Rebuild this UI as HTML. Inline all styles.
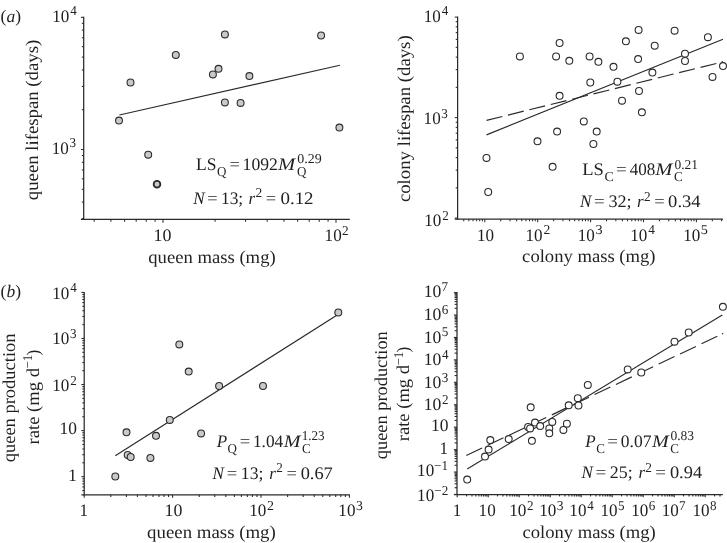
<!DOCTYPE html>
<html><head><meta charset="utf-8"><title>figure</title>
<style>
html,body{margin:0;padding:0;background:#fff;}
body{width:727px;height:543px;overflow:hidden;}
.w{width:727px;height:543px;filter:grayscale(1);}
svg{display:block;font-family:"Liberation Serif",serif;fill:#231f20;text-rendering:geometricPrecision;}
</style></head><body><div class="w">
<svg width="727" height="543" viewBox="0 0 727 543">
<rect width="727" height="543" fill="#fff"/>
<g id="pA">
<line x1="83.70" y1="16.80" x2="83.70" y2="219.90" stroke="#2a2a2a" stroke-width="1.25" />
<line x1="80.90" y1="219.30" x2="349.80" y2="219.30" stroke="#2a2a2a" stroke-width="1.25" />
<line x1="80.90" y1="17.30" x2="83.70" y2="17.30" stroke="#2a2a2a" stroke-width="1.05" />
<line x1="80.90" y1="149.50" x2="83.70" y2="149.50" stroke="#2a2a2a" stroke-width="1.05" />
<line x1="81.80" y1="109.70" x2="83.70" y2="109.70" stroke="#2a2a2a" stroke-width="1.05" />
<line x1="81.80" y1="86.42" x2="83.70" y2="86.42" stroke="#2a2a2a" stroke-width="1.05" />
<line x1="81.80" y1="69.91" x2="83.70" y2="69.91" stroke="#2a2a2a" stroke-width="1.05" />
<line x1="81.80" y1="57.10" x2="83.70" y2="57.10" stroke="#2a2a2a" stroke-width="1.05" />
<line x1="81.80" y1="46.63" x2="83.70" y2="46.63" stroke="#2a2a2a" stroke-width="1.05" />
<line x1="81.80" y1="37.78" x2="83.70" y2="37.78" stroke="#2a2a2a" stroke-width="1.05" />
<line x1="81.80" y1="30.11" x2="83.70" y2="30.11" stroke="#2a2a2a" stroke-width="1.05" />
<line x1="81.80" y1="23.35" x2="83.70" y2="23.35" stroke="#2a2a2a" stroke-width="1.05" />
<line x1="81.80" y1="218.62" x2="83.70" y2="218.62" stroke="#2a2a2a" stroke-width="1.05" />
<line x1="81.80" y1="202.11" x2="83.70" y2="202.11" stroke="#2a2a2a" stroke-width="1.05" />
<line x1="81.80" y1="189.30" x2="83.70" y2="189.30" stroke="#2a2a2a" stroke-width="1.05" />
<line x1="81.80" y1="178.83" x2="83.70" y2="178.83" stroke="#2a2a2a" stroke-width="1.05" />
<line x1="81.80" y1="169.98" x2="83.70" y2="169.98" stroke="#2a2a2a" stroke-width="1.05" />
<line x1="81.80" y1="162.31" x2="83.70" y2="162.31" stroke="#2a2a2a" stroke-width="1.05" />
<line x1="81.80" y1="155.55" x2="83.70" y2="155.55" stroke="#2a2a2a" stroke-width="1.05" />
<line x1="94.16" y1="219.30" x2="94.16" y2="221.80" stroke="#2a2a2a" stroke-width="1.05" />
<line x1="110.92" y1="219.30" x2="110.92" y2="221.80" stroke="#2a2a2a" stroke-width="1.05" />
<line x1="124.62" y1="219.30" x2="124.62" y2="221.80" stroke="#2a2a2a" stroke-width="1.05" />
<line x1="136.20" y1="219.30" x2="136.20" y2="221.80" stroke="#2a2a2a" stroke-width="1.05" />
<line x1="146.23" y1="219.30" x2="146.23" y2="221.80" stroke="#2a2a2a" stroke-width="1.05" />
<line x1="155.08" y1="219.30" x2="155.08" y2="221.80" stroke="#2a2a2a" stroke-width="1.05" />
<line x1="163.00" y1="219.30" x2="163.00" y2="222.80" stroke="#2a2a2a" stroke-width="1.05" />
<line x1="215.08" y1="219.30" x2="215.08" y2="221.80" stroke="#2a2a2a" stroke-width="1.05" />
<line x1="245.54" y1="219.30" x2="245.54" y2="221.80" stroke="#2a2a2a" stroke-width="1.05" />
<line x1="267.16" y1="219.30" x2="267.16" y2="221.80" stroke="#2a2a2a" stroke-width="1.05" />
<line x1="283.92" y1="219.30" x2="283.92" y2="221.80" stroke="#2a2a2a" stroke-width="1.05" />
<line x1="297.62" y1="219.30" x2="297.62" y2="221.80" stroke="#2a2a2a" stroke-width="1.05" />
<line x1="309.20" y1="219.30" x2="309.20" y2="221.80" stroke="#2a2a2a" stroke-width="1.05" />
<line x1="319.23" y1="219.30" x2="319.23" y2="221.80" stroke="#2a2a2a" stroke-width="1.05" />
<line x1="328.08" y1="219.30" x2="328.08" y2="221.80" stroke="#2a2a2a" stroke-width="1.05" />
<line x1="336.00" y1="219.30" x2="336.00" y2="222.80" stroke="#2a2a2a" stroke-width="1.05" />
<text x="0.6" y="21.7" font-size="17.5">(<tspan font-style="italic">a</tspan>)</text>
<text transform="translate(52.26 21.70) scale(0.9700 1)" font-size="17.6">10</text>
<text transform="translate(70.18 15.40) scale(0.9700 1)" font-size="13.5">4</text>
<text transform="translate(51.76 153.50) scale(0.9700 1)" font-size="17.6">10</text>
<text transform="translate(69.57 147.20) scale(0.9700 1)" font-size="13.5">3</text>
<text transform="translate(153.50 240.70) scale(1.0207 1)" font-size="17.6">10</text>
<text transform="translate(324.61 241.00) scale(0.9700 1)" font-size="17.6">10</text>
<text transform="translate(342.09 234.70) scale(0.9833 1)" font-size="13.5">2</text>
<text transform="translate(148.22 262.50) scale(1.0365 1)" font-size="18.0">queen mass (mg)</text>
<text transform="translate(38.40 200.19) rotate(-90) scale(1.0417 1)" font-size="18.0">queen lifespan (days)</text>
<line x1="119.40" y1="115.00" x2="339.90" y2="65.30" stroke="#2a2a2a" stroke-width="1.15" />
<circle cx="119.00" cy="120.60" r="3.45" fill="#c9c9c9" stroke="#2a2a2a" stroke-width="1.08"/>
<circle cx="130.50" cy="82.50" r="3.45" fill="#c9c9c9" stroke="#2a2a2a" stroke-width="1.08"/>
<circle cx="148.20" cy="154.70" r="3.45" fill="#c9c9c9" stroke="#2a2a2a" stroke-width="1.08"/>
<circle cx="175.80" cy="54.90" r="3.45" fill="#c9c9c9" stroke="#2a2a2a" stroke-width="1.08"/>
<circle cx="212.90" cy="74.40" r="3.45" fill="#c9c9c9" stroke="#2a2a2a" stroke-width="1.08"/>
<circle cx="218.50" cy="68.80" r="3.45" fill="#c9c9c9" stroke="#2a2a2a" stroke-width="1.08"/>
<circle cx="224.90" cy="34.40" r="3.45" fill="#c9c9c9" stroke="#2a2a2a" stroke-width="1.08"/>
<circle cx="224.90" cy="102.40" r="3.45" fill="#c9c9c9" stroke="#2a2a2a" stroke-width="1.08"/>
<circle cx="240.60" cy="102.90" r="3.45" fill="#c9c9c9" stroke="#2a2a2a" stroke-width="1.08"/>
<circle cx="249.40" cy="76.10" r="3.45" fill="#c9c9c9" stroke="#2a2a2a" stroke-width="1.08"/>
<circle cx="321.10" cy="35.50" r="3.45" fill="#c9c9c9" stroke="#2a2a2a" stroke-width="1.08"/>
<circle cx="339.40" cy="127.60" r="3.45" fill="#c9c9c9" stroke="#2a2a2a" stroke-width="1.08"/>
<circle cx="157.00" cy="184.30" r="3.35" fill="#c9c9c9" stroke="#2a2a2a" stroke-width="1.8"/>
<text transform="translate(196.03 169.80) scale(0.9961 1)" font-size="17.6">LS</text>
<text transform="translate(217.09 175.80) scale(0.9700 1)" font-size="13.5">Q</text>
<text transform="translate(229.54 169.80) scale(1.0424 1)" font-size="17.6">=</text>
<text transform="translate(242.62 169.80) scale(1.0030 1)" font-size="17.6">1092</text>
<text transform="translate(277.92 169.80) scale(1.1724 1)" font-size="17.6" font-style="italic">M</text>
<text transform="translate(296.99 175.80) scale(0.9700 1)" font-size="13.5">Q</text>
<text transform="translate(297.36 163.40) scale(1.0359 1)" font-size="13.5">0.29</text>
<text transform="translate(193.35 203.80) scale(0.9700 1)" font-size="17.6" font-style="italic">N</text>
<text transform="translate(207.34 203.80) scale(1.0424 1)" font-size="17.6">=</text>
<text transform="translate(220.94 203.80) scale(0.9899 1)" font-size="17.6">13;</text>
<text transform="translate(248.57 203.80) scale(0.9700 1)" font-size="17.6" font-style="italic">r</text>
<text transform="translate(255.58 197.40) scale(1.0008 1)" font-size="13.5">2</text>
<text transform="translate(265.74 203.80) scale(1.0424 1)" font-size="17.6">=</text>
<text transform="translate(280.41 203.80) scale(1.0773 1)" font-size="17.6">0.12</text>
</g>
<g id="pB">
<line x1="457.60" y1="16.60" x2="457.60" y2="219.80" stroke="#2a2a2a" stroke-width="1.25" />
<line x1="454.80" y1="219.20" x2="723.00" y2="219.20" stroke="#2a2a2a" stroke-width="1.25" />
<line x1="454.80" y1="17.10" x2="457.60" y2="17.10" stroke="#2a2a2a" stroke-width="1.05" />
<line x1="454.80" y1="117.60" x2="457.60" y2="117.60" stroke="#2a2a2a" stroke-width="1.05" />
<line x1="455.70" y1="87.35" x2="457.60" y2="87.35" stroke="#2a2a2a" stroke-width="1.05" />
<line x1="455.70" y1="69.65" x2="457.60" y2="69.65" stroke="#2a2a2a" stroke-width="1.05" />
<line x1="455.70" y1="57.09" x2="457.60" y2="57.09" stroke="#2a2a2a" stroke-width="1.05" />
<line x1="455.70" y1="47.35" x2="457.60" y2="47.35" stroke="#2a2a2a" stroke-width="1.05" />
<line x1="455.70" y1="39.40" x2="457.60" y2="39.40" stroke="#2a2a2a" stroke-width="1.05" />
<line x1="455.70" y1="32.67" x2="457.60" y2="32.67" stroke="#2a2a2a" stroke-width="1.05" />
<line x1="455.70" y1="26.84" x2="457.60" y2="26.84" stroke="#2a2a2a" stroke-width="1.05" />
<line x1="455.70" y1="21.70" x2="457.60" y2="21.70" stroke="#2a2a2a" stroke-width="1.05" />
<line x1="454.80" y1="218.10" x2="457.60" y2="218.10" stroke="#2a2a2a" stroke-width="1.05" />
<line x1="455.70" y1="187.85" x2="457.60" y2="187.85" stroke="#2a2a2a" stroke-width="1.05" />
<line x1="455.70" y1="170.15" x2="457.60" y2="170.15" stroke="#2a2a2a" stroke-width="1.05" />
<line x1="455.70" y1="157.59" x2="457.60" y2="157.59" stroke="#2a2a2a" stroke-width="1.05" />
<line x1="455.70" y1="147.85" x2="457.60" y2="147.85" stroke="#2a2a2a" stroke-width="1.05" />
<line x1="455.70" y1="139.90" x2="457.60" y2="139.90" stroke="#2a2a2a" stroke-width="1.05" />
<line x1="455.70" y1="133.17" x2="457.60" y2="133.17" stroke="#2a2a2a" stroke-width="1.05" />
<line x1="455.70" y1="127.34" x2="457.60" y2="127.34" stroke="#2a2a2a" stroke-width="1.05" />
<line x1="455.70" y1="122.20" x2="457.60" y2="122.20" stroke="#2a2a2a" stroke-width="1.05" />
<line x1="463.75" y1="219.20" x2="463.75" y2="221.30" stroke="#2a2a2a" stroke-width="1.05" />
<line x1="468.88" y1="219.20" x2="468.88" y2="221.30" stroke="#2a2a2a" stroke-width="1.05" />
<line x1="473.06" y1="219.20" x2="473.06" y2="221.30" stroke="#2a2a2a" stroke-width="1.05" />
<line x1="476.61" y1="219.20" x2="476.61" y2="221.30" stroke="#2a2a2a" stroke-width="1.05" />
<line x1="479.67" y1="219.20" x2="479.67" y2="221.30" stroke="#2a2a2a" stroke-width="1.05" />
<line x1="482.38" y1="219.20" x2="482.38" y2="221.30" stroke="#2a2a2a" stroke-width="1.05" />
<line x1="484.80" y1="219.20" x2="484.80" y2="222.20" stroke="#2a2a2a" stroke-width="1.05" />
<line x1="500.72" y1="219.20" x2="500.72" y2="221.30" stroke="#2a2a2a" stroke-width="1.05" />
<line x1="510.04" y1="219.20" x2="510.04" y2="221.30" stroke="#2a2a2a" stroke-width="1.05" />
<line x1="516.65" y1="219.20" x2="516.65" y2="221.30" stroke="#2a2a2a" stroke-width="1.05" />
<line x1="521.78" y1="219.20" x2="521.78" y2="221.30" stroke="#2a2a2a" stroke-width="1.05" />
<line x1="525.96" y1="219.20" x2="525.96" y2="221.30" stroke="#2a2a2a" stroke-width="1.05" />
<line x1="529.51" y1="219.20" x2="529.51" y2="221.30" stroke="#2a2a2a" stroke-width="1.05" />
<line x1="532.57" y1="219.20" x2="532.57" y2="221.30" stroke="#2a2a2a" stroke-width="1.05" />
<line x1="535.28" y1="219.20" x2="535.28" y2="221.30" stroke="#2a2a2a" stroke-width="1.05" />
<line x1="537.70" y1="219.20" x2="537.70" y2="222.20" stroke="#2a2a2a" stroke-width="1.05" />
<line x1="553.62" y1="219.20" x2="553.62" y2="221.30" stroke="#2a2a2a" stroke-width="1.05" />
<line x1="562.94" y1="219.20" x2="562.94" y2="221.30" stroke="#2a2a2a" stroke-width="1.05" />
<line x1="569.55" y1="219.20" x2="569.55" y2="221.30" stroke="#2a2a2a" stroke-width="1.05" />
<line x1="574.68" y1="219.20" x2="574.68" y2="221.30" stroke="#2a2a2a" stroke-width="1.05" />
<line x1="578.86" y1="219.20" x2="578.86" y2="221.30" stroke="#2a2a2a" stroke-width="1.05" />
<line x1="582.41" y1="219.20" x2="582.41" y2="221.30" stroke="#2a2a2a" stroke-width="1.05" />
<line x1="585.47" y1="219.20" x2="585.47" y2="221.30" stroke="#2a2a2a" stroke-width="1.05" />
<line x1="588.18" y1="219.20" x2="588.18" y2="221.30" stroke="#2a2a2a" stroke-width="1.05" />
<line x1="590.60" y1="219.20" x2="590.60" y2="222.20" stroke="#2a2a2a" stroke-width="1.05" />
<line x1="606.52" y1="219.20" x2="606.52" y2="221.30" stroke="#2a2a2a" stroke-width="1.05" />
<line x1="615.84" y1="219.20" x2="615.84" y2="221.30" stroke="#2a2a2a" stroke-width="1.05" />
<line x1="622.45" y1="219.20" x2="622.45" y2="221.30" stroke="#2a2a2a" stroke-width="1.05" />
<line x1="627.58" y1="219.20" x2="627.58" y2="221.30" stroke="#2a2a2a" stroke-width="1.05" />
<line x1="631.76" y1="219.20" x2="631.76" y2="221.30" stroke="#2a2a2a" stroke-width="1.05" />
<line x1="635.31" y1="219.20" x2="635.31" y2="221.30" stroke="#2a2a2a" stroke-width="1.05" />
<line x1="638.37" y1="219.20" x2="638.37" y2="221.30" stroke="#2a2a2a" stroke-width="1.05" />
<line x1="641.08" y1="219.20" x2="641.08" y2="221.30" stroke="#2a2a2a" stroke-width="1.05" />
<line x1="643.50" y1="219.20" x2="643.50" y2="222.20" stroke="#2a2a2a" stroke-width="1.05" />
<line x1="659.42" y1="219.20" x2="659.42" y2="221.30" stroke="#2a2a2a" stroke-width="1.05" />
<line x1="668.74" y1="219.20" x2="668.74" y2="221.30" stroke="#2a2a2a" stroke-width="1.05" />
<line x1="675.35" y1="219.20" x2="675.35" y2="221.30" stroke="#2a2a2a" stroke-width="1.05" />
<line x1="680.48" y1="219.20" x2="680.48" y2="221.30" stroke="#2a2a2a" stroke-width="1.05" />
<line x1="684.66" y1="219.20" x2="684.66" y2="221.30" stroke="#2a2a2a" stroke-width="1.05" />
<line x1="688.21" y1="219.20" x2="688.21" y2="221.30" stroke="#2a2a2a" stroke-width="1.05" />
<line x1="691.27" y1="219.20" x2="691.27" y2="221.30" stroke="#2a2a2a" stroke-width="1.05" />
<line x1="693.98" y1="219.20" x2="693.98" y2="221.30" stroke="#2a2a2a" stroke-width="1.05" />
<line x1="696.40" y1="219.20" x2="696.40" y2="222.20" stroke="#2a2a2a" stroke-width="1.05" />
<line x1="712.32" y1="219.20" x2="712.32" y2="221.30" stroke="#2a2a2a" stroke-width="1.05" />
<line x1="721.64" y1="219.20" x2="721.64" y2="221.30" stroke="#2a2a2a" stroke-width="1.05" />
<text transform="translate(423.81 21.50) scale(0.9700 1)" font-size="17.6">10</text>
<text transform="translate(441.63 15.20) scale(0.9700 1)" font-size="13.5">4</text>
<text transform="translate(423.61 123.90) scale(0.9700 1)" font-size="17.6">10</text>
<text transform="translate(441.37 117.60) scale(0.9700 1)" font-size="13.5">3</text>
<text transform="translate(424.31 225.90) scale(0.9700 1)" font-size="17.6">10</text>
<text transform="translate(442.13 219.60) scale(0.9700 1)" font-size="13.5">2</text>
<text transform="translate(476.91 240.70) scale(0.9700 1)" font-size="17.6">10</text>
<text transform="translate(525.51 240.70) scale(0.9700 1)" font-size="17.6">10</text>
<text transform="translate(543.38 234.40) scale(1.0008 1)" font-size="13.5">2</text>
<text transform="translate(577.66 240.70) scale(0.9700 1)" font-size="17.6">10</text>
<text transform="translate(595.43 234.40) scale(1.0535 1)" font-size="13.5">3</text>
<text transform="translate(630.26 240.70) scale(0.9700 1)" font-size="17.6">10</text>
<text transform="translate(648.29 234.40) scale(0.9798 1)" font-size="13.5">4</text>
<text transform="translate(683.16 240.70) scale(0.9700 1)" font-size="17.6">10</text>
<text transform="translate(700.83 234.40) scale(1.0535 1)" font-size="13.5">5</text>
<text transform="translate(522.12 262.30) scale(1.0347 1)" font-size="18.0">colony mass (mg)</text>
<text transform="translate(410.00 202.09) rotate(-90) scale(1.0426 1)" font-size="18.0">colony lifespan (days)</text>
<line x1="486.50" y1="134.90" x2="723.00" y2="39.20" stroke="#2a2a2a" stroke-width="1.15" />
<line x1="486.50" y1="120.40" x2="722.60" y2="61.90" stroke="#2a2a2a" stroke-width="1.15" stroke-dasharray="16.3 5.75"/>
<line x1="721.60" y1="62.15" x2="722.90" y2="61.83" stroke="#2a2a2a" stroke-width="1.15" />
<circle cx="486.50" cy="157.90" r="3.45" fill="#fff" stroke="#2a2a2a" stroke-width="1.08"/>
<circle cx="488.20" cy="192.00" r="3.45" fill="#fff" stroke="#2a2a2a" stroke-width="1.08"/>
<circle cx="519.90" cy="56.40" r="3.45" fill="#fff" stroke="#2a2a2a" stroke-width="1.08"/>
<circle cx="537.50" cy="141.30" r="3.45" fill="#fff" stroke="#2a2a2a" stroke-width="1.08"/>
<circle cx="552.60" cy="166.80" r="3.45" fill="#fff" stroke="#2a2a2a" stroke-width="1.08"/>
<circle cx="556.10" cy="56.40" r="3.45" fill="#fff" stroke="#2a2a2a" stroke-width="1.08"/>
<circle cx="557.10" cy="131.60" r="3.45" fill="#fff" stroke="#2a2a2a" stroke-width="1.08"/>
<circle cx="559.60" cy="43.00" r="3.45" fill="#fff" stroke="#2a2a2a" stroke-width="1.08"/>
<circle cx="559.60" cy="95.80" r="3.45" fill="#fff" stroke="#2a2a2a" stroke-width="1.08"/>
<circle cx="569.30" cy="60.80" r="3.45" fill="#fff" stroke="#2a2a2a" stroke-width="1.08"/>
<circle cx="583.80" cy="121.40" r="3.45" fill="#fff" stroke="#2a2a2a" stroke-width="1.08"/>
<circle cx="589.60" cy="56.40" r="3.45" fill="#fff" stroke="#2a2a2a" stroke-width="1.08"/>
<circle cx="590.30" cy="82.50" r="3.45" fill="#fff" stroke="#2a2a2a" stroke-width="1.08"/>
<circle cx="593.40" cy="144.00" r="3.45" fill="#fff" stroke="#2a2a2a" stroke-width="1.08"/>
<circle cx="596.70" cy="131.60" r="3.45" fill="#fff" stroke="#2a2a2a" stroke-width="1.08"/>
<circle cx="598.40" cy="61.80" r="3.45" fill="#fff" stroke="#2a2a2a" stroke-width="1.08"/>
<circle cx="613.50" cy="66.80" r="3.45" fill="#fff" stroke="#2a2a2a" stroke-width="1.08"/>
<circle cx="617.40" cy="81.70" r="3.45" fill="#fff" stroke="#2a2a2a" stroke-width="1.08"/>
<circle cx="622.00" cy="100.70" r="3.45" fill="#fff" stroke="#2a2a2a" stroke-width="1.08"/>
<circle cx="625.90" cy="41.30" r="3.45" fill="#fff" stroke="#2a2a2a" stroke-width="1.08"/>
<circle cx="638.10" cy="59.10" r="3.45" fill="#fff" stroke="#2a2a2a" stroke-width="1.08"/>
<circle cx="638.60" cy="29.90" r="3.45" fill="#fff" stroke="#2a2a2a" stroke-width="1.08"/>
<circle cx="639.00" cy="91.00" r="3.45" fill="#fff" stroke="#2a2a2a" stroke-width="1.08"/>
<circle cx="641.90" cy="112.30" r="3.45" fill="#fff" stroke="#2a2a2a" stroke-width="1.08"/>
<circle cx="652.40" cy="72.60" r="3.45" fill="#fff" stroke="#2a2a2a" stroke-width="1.08"/>
<circle cx="654.70" cy="45.70" r="3.45" fill="#fff" stroke="#2a2a2a" stroke-width="1.08"/>
<circle cx="674.60" cy="30.70" r="3.45" fill="#fff" stroke="#2a2a2a" stroke-width="1.08"/>
<circle cx="685.00" cy="53.70" r="3.45" fill="#fff" stroke="#2a2a2a" stroke-width="1.08"/>
<circle cx="685.00" cy="61.00" r="3.45" fill="#fff" stroke="#2a2a2a" stroke-width="1.08"/>
<circle cx="707.90" cy="37.20" r="3.45" fill="#fff" stroke="#2a2a2a" stroke-width="1.08"/>
<circle cx="712.50" cy="76.90" r="3.45" fill="#fff" stroke="#2a2a2a" stroke-width="1.08"/>
<circle cx="723.00" cy="66.10" r="3.45" fill="#fff" stroke="#2a2a2a" stroke-width="1.08"/>
<text transform="translate(582.21 175.10) scale(1.0531 1)" font-size="17.6">LS</text>
<text transform="translate(604.46 181.10) scale(1.0355 1)" font-size="13.5">C</text>
<text transform="translate(616.11 175.10) scale(1.0788 1)" font-size="17.6">=</text>
<text transform="translate(629.68 175.10) scale(0.9700 1)" font-size="17.6">408</text>
<text transform="translate(655.32 175.10) scale(1.1724 1)" font-size="17.6" font-style="italic">M</text>
<text transform="translate(673.90 181.10) scale(0.9700 1)" font-size="13.5">C</text>
<text transform="translate(674.48 168.70) scale(0.9969 1)" font-size="13.5">0.21</text>
<text transform="translate(580.05 207.30) scale(0.9700 1)" font-size="17.6" font-style="italic">N</text>
<text transform="translate(594.11 207.30) scale(1.0788 1)" font-size="17.6">=</text>
<text transform="translate(608.45 207.30) scale(1.0319 1)" font-size="17.6">32;</text>
<text transform="translate(637.12 207.30) scale(0.9700 1)" font-size="17.6" font-style="italic">r</text>
<text transform="translate(644.09 200.90) scale(0.9833 1)" font-size="13.5">2</text>
<text transform="translate(654.23 207.30) scale(1.0545 1)" font-size="17.6">=</text>
<text transform="translate(668.12 207.30) scale(1.0542 1)" font-size="17.6">0.34</text>
</g>
<g id="pC">
<line x1="84.20" y1="291.90" x2="84.20" y2="495.40" stroke="#2a2a2a" stroke-width="1.25" />
<line x1="81.40" y1="494.80" x2="349.80" y2="494.80" stroke="#2a2a2a" stroke-width="1.25" />
<line x1="81.40" y1="292.40" x2="84.20" y2="292.40" stroke="#2a2a2a" stroke-width="1.05" />
<line x1="81.40" y1="338.47" x2="84.20" y2="338.47" stroke="#2a2a2a" stroke-width="1.05" />
<line x1="82.30" y1="324.60" x2="84.20" y2="324.60" stroke="#2a2a2a" stroke-width="1.05" />
<line x1="82.30" y1="316.49" x2="84.20" y2="316.49" stroke="#2a2a2a" stroke-width="1.05" />
<line x1="82.30" y1="310.73" x2="84.20" y2="310.73" stroke="#2a2a2a" stroke-width="1.05" />
<line x1="82.30" y1="306.27" x2="84.20" y2="306.27" stroke="#2a2a2a" stroke-width="1.05" />
<line x1="82.30" y1="302.62" x2="84.20" y2="302.62" stroke="#2a2a2a" stroke-width="1.05" />
<line x1="82.30" y1="299.54" x2="84.20" y2="299.54" stroke="#2a2a2a" stroke-width="1.05" />
<line x1="82.30" y1="296.86" x2="84.20" y2="296.86" stroke="#2a2a2a" stroke-width="1.05" />
<line x1="82.30" y1="294.51" x2="84.20" y2="294.51" stroke="#2a2a2a" stroke-width="1.05" />
<line x1="81.40" y1="384.54" x2="84.20" y2="384.54" stroke="#2a2a2a" stroke-width="1.05" />
<line x1="82.30" y1="370.67" x2="84.20" y2="370.67" stroke="#2a2a2a" stroke-width="1.05" />
<line x1="82.30" y1="362.56" x2="84.20" y2="362.56" stroke="#2a2a2a" stroke-width="1.05" />
<line x1="82.30" y1="356.80" x2="84.20" y2="356.80" stroke="#2a2a2a" stroke-width="1.05" />
<line x1="82.30" y1="352.34" x2="84.20" y2="352.34" stroke="#2a2a2a" stroke-width="1.05" />
<line x1="82.30" y1="348.69" x2="84.20" y2="348.69" stroke="#2a2a2a" stroke-width="1.05" />
<line x1="82.30" y1="345.61" x2="84.20" y2="345.61" stroke="#2a2a2a" stroke-width="1.05" />
<line x1="82.30" y1="342.93" x2="84.20" y2="342.93" stroke="#2a2a2a" stroke-width="1.05" />
<line x1="82.30" y1="340.58" x2="84.20" y2="340.58" stroke="#2a2a2a" stroke-width="1.05" />
<line x1="81.40" y1="430.61" x2="84.20" y2="430.61" stroke="#2a2a2a" stroke-width="1.05" />
<line x1="82.30" y1="416.74" x2="84.20" y2="416.74" stroke="#2a2a2a" stroke-width="1.05" />
<line x1="82.30" y1="408.63" x2="84.20" y2="408.63" stroke="#2a2a2a" stroke-width="1.05" />
<line x1="82.30" y1="402.87" x2="84.20" y2="402.87" stroke="#2a2a2a" stroke-width="1.05" />
<line x1="82.30" y1="398.41" x2="84.20" y2="398.41" stroke="#2a2a2a" stroke-width="1.05" />
<line x1="82.30" y1="394.76" x2="84.20" y2="394.76" stroke="#2a2a2a" stroke-width="1.05" />
<line x1="82.30" y1="391.68" x2="84.20" y2="391.68" stroke="#2a2a2a" stroke-width="1.05" />
<line x1="82.30" y1="389.00" x2="84.20" y2="389.00" stroke="#2a2a2a" stroke-width="1.05" />
<line x1="82.30" y1="386.65" x2="84.20" y2="386.65" stroke="#2a2a2a" stroke-width="1.05" />
<line x1="81.40" y1="476.68" x2="84.20" y2="476.68" stroke="#2a2a2a" stroke-width="1.05" />
<line x1="82.30" y1="462.81" x2="84.20" y2="462.81" stroke="#2a2a2a" stroke-width="1.05" />
<line x1="82.30" y1="454.70" x2="84.20" y2="454.70" stroke="#2a2a2a" stroke-width="1.05" />
<line x1="82.30" y1="448.94" x2="84.20" y2="448.94" stroke="#2a2a2a" stroke-width="1.05" />
<line x1="82.30" y1="444.48" x2="84.20" y2="444.48" stroke="#2a2a2a" stroke-width="1.05" />
<line x1="82.30" y1="440.83" x2="84.20" y2="440.83" stroke="#2a2a2a" stroke-width="1.05" />
<line x1="82.30" y1="437.75" x2="84.20" y2="437.75" stroke="#2a2a2a" stroke-width="1.05" />
<line x1="82.30" y1="435.07" x2="84.20" y2="435.07" stroke="#2a2a2a" stroke-width="1.05" />
<line x1="82.30" y1="432.72" x2="84.20" y2="432.72" stroke="#2a2a2a" stroke-width="1.05" />
<line x1="82.30" y1="490.55" x2="84.20" y2="490.55" stroke="#2a2a2a" stroke-width="1.05" />
<line x1="82.30" y1="486.90" x2="84.20" y2="486.90" stroke="#2a2a2a" stroke-width="1.05" />
<line x1="82.30" y1="483.82" x2="84.20" y2="483.82" stroke="#2a2a2a" stroke-width="1.05" />
<line x1="82.30" y1="481.14" x2="84.20" y2="481.14" stroke="#2a2a2a" stroke-width="1.05" />
<line x1="82.30" y1="478.79" x2="84.20" y2="478.79" stroke="#2a2a2a" stroke-width="1.05" />
<line x1="84.20" y1="494.80" x2="84.20" y2="497.80" stroke="#2a2a2a" stroke-width="1.05" />
<line x1="110.81" y1="494.80" x2="110.81" y2="496.90" stroke="#2a2a2a" stroke-width="1.05" />
<line x1="126.38" y1="494.80" x2="126.38" y2="496.90" stroke="#2a2a2a" stroke-width="1.05" />
<line x1="137.42" y1="494.80" x2="137.42" y2="496.90" stroke="#2a2a2a" stroke-width="1.05" />
<line x1="145.99" y1="494.80" x2="145.99" y2="496.90" stroke="#2a2a2a" stroke-width="1.05" />
<line x1="152.99" y1="494.80" x2="152.99" y2="496.90" stroke="#2a2a2a" stroke-width="1.05" />
<line x1="158.91" y1="494.80" x2="158.91" y2="496.90" stroke="#2a2a2a" stroke-width="1.05" />
<line x1="164.03" y1="494.80" x2="164.03" y2="496.90" stroke="#2a2a2a" stroke-width="1.05" />
<line x1="168.56" y1="494.80" x2="168.56" y2="496.90" stroke="#2a2a2a" stroke-width="1.05" />
<line x1="172.60" y1="494.80" x2="172.60" y2="497.80" stroke="#2a2a2a" stroke-width="1.05" />
<line x1="199.21" y1="494.80" x2="199.21" y2="496.90" stroke="#2a2a2a" stroke-width="1.05" />
<line x1="214.78" y1="494.80" x2="214.78" y2="496.90" stroke="#2a2a2a" stroke-width="1.05" />
<line x1="225.82" y1="494.80" x2="225.82" y2="496.90" stroke="#2a2a2a" stroke-width="1.05" />
<line x1="234.39" y1="494.80" x2="234.39" y2="496.90" stroke="#2a2a2a" stroke-width="1.05" />
<line x1="241.39" y1="494.80" x2="241.39" y2="496.90" stroke="#2a2a2a" stroke-width="1.05" />
<line x1="247.31" y1="494.80" x2="247.31" y2="496.90" stroke="#2a2a2a" stroke-width="1.05" />
<line x1="252.43" y1="494.80" x2="252.43" y2="496.90" stroke="#2a2a2a" stroke-width="1.05" />
<line x1="256.96" y1="494.80" x2="256.96" y2="496.90" stroke="#2a2a2a" stroke-width="1.05" />
<line x1="261.00" y1="494.80" x2="261.00" y2="497.80" stroke="#2a2a2a" stroke-width="1.05" />
<line x1="287.61" y1="494.80" x2="287.61" y2="496.90" stroke="#2a2a2a" stroke-width="1.05" />
<line x1="303.18" y1="494.80" x2="303.18" y2="496.90" stroke="#2a2a2a" stroke-width="1.05" />
<line x1="314.22" y1="494.80" x2="314.22" y2="496.90" stroke="#2a2a2a" stroke-width="1.05" />
<line x1="322.79" y1="494.80" x2="322.79" y2="496.90" stroke="#2a2a2a" stroke-width="1.05" />
<line x1="329.79" y1="494.80" x2="329.79" y2="496.90" stroke="#2a2a2a" stroke-width="1.05" />
<line x1="335.71" y1="494.80" x2="335.71" y2="496.90" stroke="#2a2a2a" stroke-width="1.05" />
<line x1="340.83" y1="494.80" x2="340.83" y2="496.90" stroke="#2a2a2a" stroke-width="1.05" />
<line x1="345.36" y1="494.80" x2="345.36" y2="496.90" stroke="#2a2a2a" stroke-width="1.05" />
<line x1="349.40" y1="494.80" x2="349.40" y2="497.80" stroke="#2a2a2a" stroke-width="1.05" />
<text x="0.6" y="297.4" font-size="17.5">(<tspan font-style="italic">b</tspan>)</text>
<text transform="translate(52.16 298.60) scale(0.9700 1)" font-size="17.6">10</text>
<text transform="translate(70.13 292.30) scale(0.9700 1)" font-size="13.5">4</text>
<text transform="translate(52.16 344.30) scale(0.9700 1)" font-size="17.6">10</text>
<text transform="translate(69.92 338.00) scale(0.9700 1)" font-size="13.5">3</text>
<text transform="translate(52.16 391.00) scale(0.9700 1)" font-size="17.6">10</text>
<text transform="translate(70.23 384.70) scale(0.9700 1)" font-size="13.5">2</text>
<text transform="translate(59.54 434.40) scale(0.9888 1)" font-size="17.6">10</text>
<text transform="translate(68.27 480.70) scale(0.9700 1)" font-size="17.6">1</text>
<text transform="translate(79.42 516.40) scale(0.9700 1)" font-size="17.6">1</text>
<text transform="translate(164.51 516.40) scale(1.0144 1)" font-size="17.6">10</text>
<text transform="translate(249.26 516.40) scale(0.9700 1)" font-size="17.6">10</text>
<text transform="translate(267.06 510.10) scale(1.0359 1)" font-size="13.5">2</text>
<text transform="translate(338.36 516.40) scale(0.9700 1)" font-size="17.6">10</text>
<text transform="translate(355.96 510.10) scale(1.0184 1)" font-size="13.5">3</text>
<text transform="translate(147.11 537.50) scale(1.0464 1)" font-size="18.0">queen mass (mg)</text>
<text transform="translate(15.20 462.28) rotate(-90) scale(1.0264 1)" font-size="18.0">queen production</text>
<text transform="translate(38.60 444.39) rotate(-90) scale(1.0327 1)" font-size="18.0">rate (mg d</text>
<text transform="translate(32.40 368.52) rotate(-90) scale(0.9700 1)" font-size="13.5">−1</text>
<text transform="translate(38.60 355.41) rotate(-90) scale(0.9700 1)" font-size="18.0">)</text>
<line x1="115.30" y1="455.80" x2="338.00" y2="314.50" stroke="#2a2a2a" stroke-width="1.15" />
<circle cx="115.30" cy="476.50" r="3.45" fill="#c9c9c9" stroke="#2a2a2a" stroke-width="1.08"/>
<circle cx="126.50" cy="432.30" r="3.45" fill="#c9c9c9" stroke="#2a2a2a" stroke-width="1.08"/>
<circle cx="127.70" cy="455.00" r="3.45" fill="#c9c9c9" stroke="#2a2a2a" stroke-width="1.08"/>
<circle cx="130.70" cy="457.00" r="3.45" fill="#c9c9c9" stroke="#2a2a2a" stroke-width="1.08"/>
<circle cx="150.40" cy="457.90" r="3.45" fill="#c9c9c9" stroke="#2a2a2a" stroke-width="1.08"/>
<circle cx="156.00" cy="435.80" r="3.45" fill="#c9c9c9" stroke="#2a2a2a" stroke-width="1.08"/>
<circle cx="169.80" cy="419.90" r="3.45" fill="#c9c9c9" stroke="#2a2a2a" stroke-width="1.08"/>
<circle cx="179.30" cy="344.40" r="3.45" fill="#c9c9c9" stroke="#2a2a2a" stroke-width="1.08"/>
<circle cx="188.70" cy="371.60" r="3.45" fill="#c9c9c9" stroke="#2a2a2a" stroke-width="1.08"/>
<circle cx="201.10" cy="433.40" r="3.45" fill="#c9c9c9" stroke="#2a2a2a" stroke-width="1.08"/>
<circle cx="219.10" cy="386.00" r="3.45" fill="#c9c9c9" stroke="#2a2a2a" stroke-width="1.08"/>
<circle cx="263.00" cy="386.00" r="3.45" fill="#c9c9c9" stroke="#2a2a2a" stroke-width="1.08"/>
<circle cx="338.30" cy="312.50" r="3.45" fill="#c9c9c9" stroke="#2a2a2a" stroke-width="1.08"/>
<text transform="translate(216.77 446.50) scale(0.9700 1)" font-size="17.6" font-style="italic">P</text>
<text transform="translate(227.54 452.50) scale(0.9700 1)" font-size="13.5">Q</text>
<text transform="translate(239.83 446.50) scale(1.0545 1)" font-size="17.6">=</text>
<text transform="translate(252.95 446.50) scale(0.9846 1)" font-size="17.6">1.04</text>
<text transform="translate(283.82 446.50) scale(1.1473 1)" font-size="17.6" font-style="italic">M</text>
<text transform="translate(302.00 452.50) scale(0.9700 1)" font-size="13.5">C</text>
<text transform="translate(301.68 440.10) scale(0.9700 1)" font-size="13.5">1.23</text>
<text transform="translate(212.40 478.80) scale(0.9700 1)" font-size="17.6" font-style="italic">N</text>
<text transform="translate(226.63 478.80) scale(1.0545 1)" font-size="17.6">=</text>
<text transform="translate(240.82 478.80) scale(1.0051 1)" font-size="17.6">13;</text>
<text transform="translate(269.37 478.80) scale(0.9700 1)" font-size="17.6" font-style="italic">r</text>
<text transform="translate(276.18 472.40) scale(0.9700 1)" font-size="13.5">2</text>
<text transform="translate(286.43 478.80) scale(1.0545 1)" font-size="17.6">=</text>
<text transform="translate(300.63 478.80) scale(1.0442 1)" font-size="17.6">0.67</text>
</g>
<g id="pD">
<line x1="457.00" y1="292.10" x2="457.00" y2="495.10" stroke="#2a2a2a" stroke-width="1.25" />
<line x1="454.20" y1="494.50" x2="722.80" y2="494.50" stroke="#2a2a2a" stroke-width="1.25" />
<line x1="453.90" y1="292.60" x2="457.00" y2="292.60" stroke="#2a2a2a" stroke-width="1.1" />
<line x1="453.90" y1="315.03" x2="457.00" y2="315.03" stroke="#2a2a2a" stroke-width="1.1" />
<line x1="454.60" y1="308.28" x2="457.00" y2="308.28" stroke="#2a2a2a" stroke-width="1.1" />
<line x1="454.60" y1="304.33" x2="457.00" y2="304.33" stroke="#2a2a2a" stroke-width="1.1" />
<line x1="454.60" y1="301.53" x2="457.00" y2="301.53" stroke="#2a2a2a" stroke-width="1.1" />
<line x1="454.60" y1="299.35" x2="457.00" y2="299.35" stroke="#2a2a2a" stroke-width="1.1" />
<line x1="454.60" y1="297.58" x2="457.00" y2="297.58" stroke="#2a2a2a" stroke-width="1.1" />
<line x1="454.60" y1="296.07" x2="457.00" y2="296.07" stroke="#2a2a2a" stroke-width="1.1" />
<line x1="454.60" y1="294.77" x2="457.00" y2="294.77" stroke="#2a2a2a" stroke-width="1.1" />
<line x1="454.60" y1="293.63" x2="457.00" y2="293.63" stroke="#2a2a2a" stroke-width="1.1" />
<line x1="453.90" y1="337.46" x2="457.00" y2="337.46" stroke="#2a2a2a" stroke-width="1.1" />
<line x1="454.60" y1="330.71" x2="457.00" y2="330.71" stroke="#2a2a2a" stroke-width="1.1" />
<line x1="454.60" y1="326.76" x2="457.00" y2="326.76" stroke="#2a2a2a" stroke-width="1.1" />
<line x1="454.60" y1="323.96" x2="457.00" y2="323.96" stroke="#2a2a2a" stroke-width="1.1" />
<line x1="454.60" y1="321.78" x2="457.00" y2="321.78" stroke="#2a2a2a" stroke-width="1.1" />
<line x1="454.60" y1="320.01" x2="457.00" y2="320.01" stroke="#2a2a2a" stroke-width="1.1" />
<line x1="454.60" y1="318.50" x2="457.00" y2="318.50" stroke="#2a2a2a" stroke-width="1.1" />
<line x1="454.60" y1="317.20" x2="457.00" y2="317.20" stroke="#2a2a2a" stroke-width="1.1" />
<line x1="454.60" y1="316.06" x2="457.00" y2="316.06" stroke="#2a2a2a" stroke-width="1.1" />
<line x1="453.90" y1="359.89" x2="457.00" y2="359.89" stroke="#2a2a2a" stroke-width="1.1" />
<line x1="454.60" y1="353.14" x2="457.00" y2="353.14" stroke="#2a2a2a" stroke-width="1.1" />
<line x1="454.60" y1="349.19" x2="457.00" y2="349.19" stroke="#2a2a2a" stroke-width="1.1" />
<line x1="454.60" y1="346.39" x2="457.00" y2="346.39" stroke="#2a2a2a" stroke-width="1.1" />
<line x1="454.60" y1="344.21" x2="457.00" y2="344.21" stroke="#2a2a2a" stroke-width="1.1" />
<line x1="454.60" y1="342.44" x2="457.00" y2="342.44" stroke="#2a2a2a" stroke-width="1.1" />
<line x1="454.60" y1="340.93" x2="457.00" y2="340.93" stroke="#2a2a2a" stroke-width="1.1" />
<line x1="454.60" y1="339.63" x2="457.00" y2="339.63" stroke="#2a2a2a" stroke-width="1.1" />
<line x1="454.60" y1="338.49" x2="457.00" y2="338.49" stroke="#2a2a2a" stroke-width="1.1" />
<line x1="453.90" y1="382.32" x2="457.00" y2="382.32" stroke="#2a2a2a" stroke-width="1.1" />
<line x1="454.60" y1="375.57" x2="457.00" y2="375.57" stroke="#2a2a2a" stroke-width="1.1" />
<line x1="454.60" y1="371.62" x2="457.00" y2="371.62" stroke="#2a2a2a" stroke-width="1.1" />
<line x1="454.60" y1="368.82" x2="457.00" y2="368.82" stroke="#2a2a2a" stroke-width="1.1" />
<line x1="454.60" y1="366.64" x2="457.00" y2="366.64" stroke="#2a2a2a" stroke-width="1.1" />
<line x1="454.60" y1="364.87" x2="457.00" y2="364.87" stroke="#2a2a2a" stroke-width="1.1" />
<line x1="454.60" y1="363.36" x2="457.00" y2="363.36" stroke="#2a2a2a" stroke-width="1.1" />
<line x1="454.60" y1="362.06" x2="457.00" y2="362.06" stroke="#2a2a2a" stroke-width="1.1" />
<line x1="454.60" y1="360.92" x2="457.00" y2="360.92" stroke="#2a2a2a" stroke-width="1.1" />
<line x1="453.90" y1="404.75" x2="457.00" y2="404.75" stroke="#2a2a2a" stroke-width="1.1" />
<line x1="454.60" y1="398.00" x2="457.00" y2="398.00" stroke="#2a2a2a" stroke-width="1.1" />
<line x1="454.60" y1="394.05" x2="457.00" y2="394.05" stroke="#2a2a2a" stroke-width="1.1" />
<line x1="454.60" y1="391.25" x2="457.00" y2="391.25" stroke="#2a2a2a" stroke-width="1.1" />
<line x1="454.60" y1="389.07" x2="457.00" y2="389.07" stroke="#2a2a2a" stroke-width="1.1" />
<line x1="454.60" y1="387.30" x2="457.00" y2="387.30" stroke="#2a2a2a" stroke-width="1.1" />
<line x1="454.60" y1="385.79" x2="457.00" y2="385.79" stroke="#2a2a2a" stroke-width="1.1" />
<line x1="454.60" y1="384.49" x2="457.00" y2="384.49" stroke="#2a2a2a" stroke-width="1.1" />
<line x1="454.60" y1="383.35" x2="457.00" y2="383.35" stroke="#2a2a2a" stroke-width="1.1" />
<line x1="453.90" y1="427.18" x2="457.00" y2="427.18" stroke="#2a2a2a" stroke-width="1.1" />
<line x1="454.60" y1="420.43" x2="457.00" y2="420.43" stroke="#2a2a2a" stroke-width="1.1" />
<line x1="454.60" y1="416.48" x2="457.00" y2="416.48" stroke="#2a2a2a" stroke-width="1.1" />
<line x1="454.60" y1="413.68" x2="457.00" y2="413.68" stroke="#2a2a2a" stroke-width="1.1" />
<line x1="454.60" y1="411.50" x2="457.00" y2="411.50" stroke="#2a2a2a" stroke-width="1.1" />
<line x1="454.60" y1="409.73" x2="457.00" y2="409.73" stroke="#2a2a2a" stroke-width="1.1" />
<line x1="454.60" y1="408.22" x2="457.00" y2="408.22" stroke="#2a2a2a" stroke-width="1.1" />
<line x1="454.60" y1="406.92" x2="457.00" y2="406.92" stroke="#2a2a2a" stroke-width="1.1" />
<line x1="454.60" y1="405.78" x2="457.00" y2="405.78" stroke="#2a2a2a" stroke-width="1.1" />
<line x1="453.90" y1="449.61" x2="457.00" y2="449.61" stroke="#2a2a2a" stroke-width="1.1" />
<line x1="454.60" y1="442.86" x2="457.00" y2="442.86" stroke="#2a2a2a" stroke-width="1.1" />
<line x1="454.60" y1="438.91" x2="457.00" y2="438.91" stroke="#2a2a2a" stroke-width="1.1" />
<line x1="454.60" y1="436.11" x2="457.00" y2="436.11" stroke="#2a2a2a" stroke-width="1.1" />
<line x1="454.60" y1="433.93" x2="457.00" y2="433.93" stroke="#2a2a2a" stroke-width="1.1" />
<line x1="454.60" y1="432.16" x2="457.00" y2="432.16" stroke="#2a2a2a" stroke-width="1.1" />
<line x1="454.60" y1="430.65" x2="457.00" y2="430.65" stroke="#2a2a2a" stroke-width="1.1" />
<line x1="454.60" y1="429.35" x2="457.00" y2="429.35" stroke="#2a2a2a" stroke-width="1.1" />
<line x1="454.60" y1="428.21" x2="457.00" y2="428.21" stroke="#2a2a2a" stroke-width="1.1" />
<line x1="453.90" y1="472.04" x2="457.00" y2="472.04" stroke="#2a2a2a" stroke-width="1.1" />
<line x1="454.60" y1="465.29" x2="457.00" y2="465.29" stroke="#2a2a2a" stroke-width="1.1" />
<line x1="454.60" y1="461.34" x2="457.00" y2="461.34" stroke="#2a2a2a" stroke-width="1.1" />
<line x1="454.60" y1="458.54" x2="457.00" y2="458.54" stroke="#2a2a2a" stroke-width="1.1" />
<line x1="454.60" y1="456.36" x2="457.00" y2="456.36" stroke="#2a2a2a" stroke-width="1.1" />
<line x1="454.60" y1="454.59" x2="457.00" y2="454.59" stroke="#2a2a2a" stroke-width="1.1" />
<line x1="454.60" y1="453.08" x2="457.00" y2="453.08" stroke="#2a2a2a" stroke-width="1.1" />
<line x1="454.60" y1="451.78" x2="457.00" y2="451.78" stroke="#2a2a2a" stroke-width="1.1" />
<line x1="454.60" y1="450.64" x2="457.00" y2="450.64" stroke="#2a2a2a" stroke-width="1.1" />
<line x1="453.90" y1="494.47" x2="457.00" y2="494.47" stroke="#2a2a2a" stroke-width="1.1" />
<line x1="454.60" y1="487.72" x2="457.00" y2="487.72" stroke="#2a2a2a" stroke-width="1.1" />
<line x1="454.60" y1="483.77" x2="457.00" y2="483.77" stroke="#2a2a2a" stroke-width="1.1" />
<line x1="454.60" y1="480.97" x2="457.00" y2="480.97" stroke="#2a2a2a" stroke-width="1.1" />
<line x1="454.60" y1="478.79" x2="457.00" y2="478.79" stroke="#2a2a2a" stroke-width="1.1" />
<line x1="454.60" y1="477.02" x2="457.00" y2="477.02" stroke="#2a2a2a" stroke-width="1.1" />
<line x1="454.60" y1="475.51" x2="457.00" y2="475.51" stroke="#2a2a2a" stroke-width="1.1" />
<line x1="454.60" y1="474.21" x2="457.00" y2="474.21" stroke="#2a2a2a" stroke-width="1.1" />
<line x1="454.60" y1="473.07" x2="457.00" y2="473.07" stroke="#2a2a2a" stroke-width="1.1" />
<line x1="457.20" y1="494.50" x2="457.20" y2="497.20" stroke="#2a2a2a" stroke-width="1.1" />
<line x1="466.53" y1="494.50" x2="466.53" y2="496.40" stroke="#2a2a2a" stroke-width="1.1" />
<line x1="471.99" y1="494.50" x2="471.99" y2="496.40" stroke="#2a2a2a" stroke-width="1.1" />
<line x1="475.86" y1="494.50" x2="475.86" y2="496.40" stroke="#2a2a2a" stroke-width="1.1" />
<line x1="478.87" y1="494.50" x2="478.87" y2="496.40" stroke="#2a2a2a" stroke-width="1.1" />
<line x1="481.32" y1="494.50" x2="481.32" y2="496.40" stroke="#2a2a2a" stroke-width="1.1" />
<line x1="483.40" y1="494.50" x2="483.40" y2="496.40" stroke="#2a2a2a" stroke-width="1.1" />
<line x1="485.20" y1="494.50" x2="485.20" y2="496.40" stroke="#2a2a2a" stroke-width="1.1" />
<line x1="486.78" y1="494.50" x2="486.78" y2="496.40" stroke="#2a2a2a" stroke-width="1.1" />
<line x1="488.20" y1="494.50" x2="488.20" y2="497.20" stroke="#2a2a2a" stroke-width="1.1" />
<line x1="497.53" y1="494.50" x2="497.53" y2="496.40" stroke="#2a2a2a" stroke-width="1.1" />
<line x1="502.99" y1="494.50" x2="502.99" y2="496.40" stroke="#2a2a2a" stroke-width="1.1" />
<line x1="506.86" y1="494.50" x2="506.86" y2="496.40" stroke="#2a2a2a" stroke-width="1.1" />
<line x1="509.87" y1="494.50" x2="509.87" y2="496.40" stroke="#2a2a2a" stroke-width="1.1" />
<line x1="512.32" y1="494.50" x2="512.32" y2="496.40" stroke="#2a2a2a" stroke-width="1.1" />
<line x1="514.40" y1="494.50" x2="514.40" y2="496.40" stroke="#2a2a2a" stroke-width="1.1" />
<line x1="516.20" y1="494.50" x2="516.20" y2="496.40" stroke="#2a2a2a" stroke-width="1.1" />
<line x1="517.78" y1="494.50" x2="517.78" y2="496.40" stroke="#2a2a2a" stroke-width="1.1" />
<line x1="519.20" y1="494.50" x2="519.20" y2="497.20" stroke="#2a2a2a" stroke-width="1.1" />
<line x1="528.53" y1="494.50" x2="528.53" y2="496.40" stroke="#2a2a2a" stroke-width="1.1" />
<line x1="533.99" y1="494.50" x2="533.99" y2="496.40" stroke="#2a2a2a" stroke-width="1.1" />
<line x1="537.86" y1="494.50" x2="537.86" y2="496.40" stroke="#2a2a2a" stroke-width="1.1" />
<line x1="540.87" y1="494.50" x2="540.87" y2="496.40" stroke="#2a2a2a" stroke-width="1.1" />
<line x1="543.32" y1="494.50" x2="543.32" y2="496.40" stroke="#2a2a2a" stroke-width="1.1" />
<line x1="545.40" y1="494.50" x2="545.40" y2="496.40" stroke="#2a2a2a" stroke-width="1.1" />
<line x1="547.20" y1="494.50" x2="547.20" y2="496.40" stroke="#2a2a2a" stroke-width="1.1" />
<line x1="548.78" y1="494.50" x2="548.78" y2="496.40" stroke="#2a2a2a" stroke-width="1.1" />
<line x1="550.20" y1="494.50" x2="550.20" y2="497.20" stroke="#2a2a2a" stroke-width="1.1" />
<line x1="559.53" y1="494.50" x2="559.53" y2="496.40" stroke="#2a2a2a" stroke-width="1.1" />
<line x1="564.99" y1="494.50" x2="564.99" y2="496.40" stroke="#2a2a2a" stroke-width="1.1" />
<line x1="568.86" y1="494.50" x2="568.86" y2="496.40" stroke="#2a2a2a" stroke-width="1.1" />
<line x1="571.87" y1="494.50" x2="571.87" y2="496.40" stroke="#2a2a2a" stroke-width="1.1" />
<line x1="574.32" y1="494.50" x2="574.32" y2="496.40" stroke="#2a2a2a" stroke-width="1.1" />
<line x1="576.40" y1="494.50" x2="576.40" y2="496.40" stroke="#2a2a2a" stroke-width="1.1" />
<line x1="578.20" y1="494.50" x2="578.20" y2="496.40" stroke="#2a2a2a" stroke-width="1.1" />
<line x1="579.78" y1="494.50" x2="579.78" y2="496.40" stroke="#2a2a2a" stroke-width="1.1" />
<line x1="581.20" y1="494.50" x2="581.20" y2="497.20" stroke="#2a2a2a" stroke-width="1.1" />
<line x1="590.53" y1="494.50" x2="590.53" y2="496.40" stroke="#2a2a2a" stroke-width="1.1" />
<line x1="595.99" y1="494.50" x2="595.99" y2="496.40" stroke="#2a2a2a" stroke-width="1.1" />
<line x1="599.86" y1="494.50" x2="599.86" y2="496.40" stroke="#2a2a2a" stroke-width="1.1" />
<line x1="602.87" y1="494.50" x2="602.87" y2="496.40" stroke="#2a2a2a" stroke-width="1.1" />
<line x1="605.32" y1="494.50" x2="605.32" y2="496.40" stroke="#2a2a2a" stroke-width="1.1" />
<line x1="607.40" y1="494.50" x2="607.40" y2="496.40" stroke="#2a2a2a" stroke-width="1.1" />
<line x1="609.20" y1="494.50" x2="609.20" y2="496.40" stroke="#2a2a2a" stroke-width="1.1" />
<line x1="610.78" y1="494.50" x2="610.78" y2="496.40" stroke="#2a2a2a" stroke-width="1.1" />
<line x1="612.20" y1="494.50" x2="612.20" y2="497.20" stroke="#2a2a2a" stroke-width="1.1" />
<line x1="621.53" y1="494.50" x2="621.53" y2="496.40" stroke="#2a2a2a" stroke-width="1.1" />
<line x1="626.99" y1="494.50" x2="626.99" y2="496.40" stroke="#2a2a2a" stroke-width="1.1" />
<line x1="630.86" y1="494.50" x2="630.86" y2="496.40" stroke="#2a2a2a" stroke-width="1.1" />
<line x1="633.87" y1="494.50" x2="633.87" y2="496.40" stroke="#2a2a2a" stroke-width="1.1" />
<line x1="636.32" y1="494.50" x2="636.32" y2="496.40" stroke="#2a2a2a" stroke-width="1.1" />
<line x1="638.40" y1="494.50" x2="638.40" y2="496.40" stroke="#2a2a2a" stroke-width="1.1" />
<line x1="640.20" y1="494.50" x2="640.20" y2="496.40" stroke="#2a2a2a" stroke-width="1.1" />
<line x1="641.78" y1="494.50" x2="641.78" y2="496.40" stroke="#2a2a2a" stroke-width="1.1" />
<line x1="643.20" y1="494.50" x2="643.20" y2="497.20" stroke="#2a2a2a" stroke-width="1.1" />
<line x1="652.53" y1="494.50" x2="652.53" y2="496.40" stroke="#2a2a2a" stroke-width="1.1" />
<line x1="657.99" y1="494.50" x2="657.99" y2="496.40" stroke="#2a2a2a" stroke-width="1.1" />
<line x1="661.86" y1="494.50" x2="661.86" y2="496.40" stroke="#2a2a2a" stroke-width="1.1" />
<line x1="664.87" y1="494.50" x2="664.87" y2="496.40" stroke="#2a2a2a" stroke-width="1.1" />
<line x1="667.32" y1="494.50" x2="667.32" y2="496.40" stroke="#2a2a2a" stroke-width="1.1" />
<line x1="669.40" y1="494.50" x2="669.40" y2="496.40" stroke="#2a2a2a" stroke-width="1.1" />
<line x1="671.20" y1="494.50" x2="671.20" y2="496.40" stroke="#2a2a2a" stroke-width="1.1" />
<line x1="672.78" y1="494.50" x2="672.78" y2="496.40" stroke="#2a2a2a" stroke-width="1.1" />
<line x1="674.20" y1="494.50" x2="674.20" y2="497.20" stroke="#2a2a2a" stroke-width="1.1" />
<line x1="683.53" y1="494.50" x2="683.53" y2="496.40" stroke="#2a2a2a" stroke-width="1.1" />
<line x1="688.99" y1="494.50" x2="688.99" y2="496.40" stroke="#2a2a2a" stroke-width="1.1" />
<line x1="692.86" y1="494.50" x2="692.86" y2="496.40" stroke="#2a2a2a" stroke-width="1.1" />
<line x1="695.87" y1="494.50" x2="695.87" y2="496.40" stroke="#2a2a2a" stroke-width="1.1" />
<line x1="698.32" y1="494.50" x2="698.32" y2="496.40" stroke="#2a2a2a" stroke-width="1.1" />
<line x1="700.40" y1="494.50" x2="700.40" y2="496.40" stroke="#2a2a2a" stroke-width="1.1" />
<line x1="702.20" y1="494.50" x2="702.20" y2="496.40" stroke="#2a2a2a" stroke-width="1.1" />
<line x1="703.78" y1="494.50" x2="703.78" y2="496.40" stroke="#2a2a2a" stroke-width="1.1" />
<line x1="705.20" y1="494.50" x2="705.20" y2="497.20" stroke="#2a2a2a" stroke-width="1.1" />
<line x1="714.53" y1="494.50" x2="714.53" y2="496.40" stroke="#2a2a2a" stroke-width="1.1" />
<line x1="719.99" y1="494.50" x2="719.99" y2="496.40" stroke="#2a2a2a" stroke-width="1.1" />
<text transform="translate(423.72 297.20) scale(1.0016 1)" font-size="17.6">10</text>
<text transform="translate(441.62 290.90) scale(0.9700 1)" font-size="13.5">7</text>
<text transform="translate(423.72 319.80) scale(1.0016 1)" font-size="17.6">10</text>
<text transform="translate(441.82 313.50) scale(0.9700 1)" font-size="13.5">6</text>
<text transform="translate(423.72 342.60) scale(1.0016 1)" font-size="17.6">10</text>
<text transform="translate(441.82 336.30) scale(0.9700 1)" font-size="13.5">5</text>
<text transform="translate(423.72 365.20) scale(1.0016 1)" font-size="17.6">10</text>
<text transform="translate(441.93 358.90) scale(0.9700 1)" font-size="13.5">4</text>
<text transform="translate(423.72 388.00) scale(1.0016 1)" font-size="17.6">10</text>
<text transform="translate(441.82 381.70) scale(0.9700 1)" font-size="13.5">3</text>
<text transform="translate(423.72 410.30) scale(1.0016 1)" font-size="17.6">10</text>
<text transform="translate(442.03 404.00) scale(0.9700 1)" font-size="13.5">2</text>
<text transform="translate(430.93 430.80) scale(0.9952 1)" font-size="17.6">10</text>
<text transform="translate(439.62 453.60) scale(0.9700 1)" font-size="17.6">1</text>
<text transform="translate(417.11 475.80) scale(0.9700 1)" font-size="17.6">10</text>
<text transform="translate(434.03 469.50) scale(0.9700 1)" font-size="13.5">−1</text>
<text transform="translate(417.11 501.30) scale(0.9700 1)" font-size="17.6">10</text>
<text transform="translate(434.33 495.00) scale(0.9700 1)" font-size="13.5">−2</text>
<text transform="translate(452.67 516.40) scale(0.9700 1)" font-size="17.6">1</text>
<text transform="translate(478.61 516.40) scale(0.9700 1)" font-size="17.6">10</text>
<text transform="translate(509.16 516.40) scale(0.9761 1)" font-size="17.6">10</text>
<text transform="translate(527.08 510.10) scale(0.9700 1)" font-size="13.5">2</text>
<text transform="translate(539.21 516.40) scale(0.9700 1)" font-size="17.6">10</text>
<text transform="translate(556.87 510.10) scale(1.0008 1)" font-size="13.5">3</text>
<text transform="translate(569.36 516.40) scale(0.9700 1)" font-size="17.6">10</text>
<text transform="translate(587.33 510.10) scale(0.9700 1)" font-size="13.5">4</text>
<text transform="translate(600.46 516.40) scale(0.9700 1)" font-size="17.6">10</text>
<text transform="translate(618.02 510.10) scale(0.9700 1)" font-size="13.5">5</text>
<text transform="translate(631.31 516.40) scale(0.9700 1)" font-size="17.6">10</text>
<text transform="translate(648.82 510.10) scale(0.9700 1)" font-size="13.5">6</text>
<text transform="translate(661.66 516.40) scale(0.9700 1)" font-size="17.6">10</text>
<text transform="translate(679.02 510.10) scale(0.9700 1)" font-size="13.5">7</text>
<text transform="translate(692.46 516.40) scale(0.9700 1)" font-size="17.6">10</text>
<text transform="translate(709.98 510.10) scale(0.9700 1)" font-size="13.5">8</text>
<text transform="translate(522.42 538.30) scale(1.0339 1)" font-size="18.0">colony mass (mg)</text>
<text transform="translate(386.80 459.17) rotate(-90) scale(1.0200 1)" font-size="18.0">queen production</text>
<text transform="translate(408.90 441.19) rotate(-90) scale(1.0300 1)" font-size="18.0">rate (mg d</text>
<text transform="translate(402.70 365.52) rotate(-90) scale(0.9700 1)" font-size="13.5">−1</text>
<text transform="translate(408.90 352.41) rotate(-90) scale(0.9700 1)" font-size="18.0">)</text>
<line x1="467.20" y1="469.00" x2="722.30" y2="314.90" stroke="#2a2a2a" stroke-width="1.15" />
<line x1="466.30" y1="455.50" x2="722.90" y2="333.60" stroke="#2a2a2a" stroke-width="1.15" stroke-dasharray="17.5 6.17"/>
<line x1="722.00" y1="334.00" x2="723.30" y2="333.40" stroke="#2a2a2a" stroke-width="1.15" />
<circle cx="467.20" cy="479.60" r="3.45" fill="#fff" stroke="#2a2a2a" stroke-width="1.08"/>
<circle cx="485.00" cy="456.60" r="3.45" fill="#fff" stroke="#2a2a2a" stroke-width="1.08"/>
<circle cx="488.60" cy="449.60" r="3.45" fill="#fff" stroke="#2a2a2a" stroke-width="1.08"/>
<circle cx="490.30" cy="440.10" r="3.45" fill="#fff" stroke="#2a2a2a" stroke-width="1.08"/>
<circle cx="508.70" cy="439.10" r="3.45" fill="#fff" stroke="#2a2a2a" stroke-width="1.08"/>
<circle cx="528.10" cy="426.90" r="3.45" fill="#fff" stroke="#2a2a2a" stroke-width="1.08"/>
<circle cx="530.10" cy="428.40" r="3.45" fill="#fff" stroke="#2a2a2a" stroke-width="1.08"/>
<circle cx="530.70" cy="407.30" r="3.45" fill="#fff" stroke="#2a2a2a" stroke-width="1.08"/>
<circle cx="531.90" cy="440.80" r="3.45" fill="#fff" stroke="#2a2a2a" stroke-width="1.08"/>
<circle cx="535.00" cy="422.60" r="3.45" fill="#fff" stroke="#2a2a2a" stroke-width="1.08"/>
<circle cx="540.20" cy="426.10" r="3.45" fill="#fff" stroke="#2a2a2a" stroke-width="1.08"/>
<circle cx="549.30" cy="428.40" r="3.45" fill="#fff" stroke="#2a2a2a" stroke-width="1.08"/>
<circle cx="549.30" cy="433.30" r="3.45" fill="#fff" stroke="#2a2a2a" stroke-width="1.08"/>
<circle cx="552.30" cy="421.90" r="3.45" fill="#fff" stroke="#2a2a2a" stroke-width="1.08"/>
<circle cx="563.40" cy="429.90" r="3.45" fill="#fff" stroke="#2a2a2a" stroke-width="1.08"/>
<circle cx="566.90" cy="423.70" r="3.45" fill="#fff" stroke="#2a2a2a" stroke-width="1.08"/>
<circle cx="568.70" cy="405.30" r="3.45" fill="#fff" stroke="#2a2a2a" stroke-width="1.08"/>
<circle cx="577.80" cy="398.20" r="3.45" fill="#fff" stroke="#2a2a2a" stroke-width="1.08"/>
<circle cx="578.50" cy="405.50" r="3.45" fill="#fff" stroke="#2a2a2a" stroke-width="1.08"/>
<circle cx="587.80" cy="384.90" r="3.45" fill="#fff" stroke="#2a2a2a" stroke-width="1.08"/>
<circle cx="627.70" cy="369.40" r="3.45" fill="#fff" stroke="#2a2a2a" stroke-width="1.08"/>
<circle cx="641.30" cy="372.50" r="3.45" fill="#fff" stroke="#2a2a2a" stroke-width="1.08"/>
<circle cx="674.50" cy="341.70" r="3.45" fill="#fff" stroke="#2a2a2a" stroke-width="1.08"/>
<circle cx="688.70" cy="332.50" r="3.45" fill="#fff" stroke="#2a2a2a" stroke-width="1.08"/>
<circle cx="722.90" cy="306.80" r="3.45" fill="#fff" stroke="#2a2a2a" stroke-width="1.08"/>
<text transform="translate(585.37 446.50) scale(0.9700 1)" font-size="17.6" font-style="italic">P</text>
<text transform="translate(596.30 452.50) scale(0.9700 1)" font-size="13.5">C</text>
<text transform="translate(607.31 446.50) scale(1.0788 1)" font-size="17.6">=</text>
<text transform="translate(620.85 446.50) scale(0.9942 1)" font-size="17.6">0.07</text>
<text transform="translate(652.02 446.50) scale(1.1473 1)" font-size="17.6" font-style="italic">M</text>
<text transform="translate(670.20 452.50) scale(0.9700 1)" font-size="13.5">C</text>
<text transform="translate(670.48 440.10) scale(1.0008 1)" font-size="13.5">0.83</text>
<text transform="translate(581.55 478.40) scale(0.9700 1)" font-size="17.6" font-style="italic">N</text>
<text transform="translate(595.60 478.40) scale(1.0909 1)" font-size="17.6">=</text>
<text transform="translate(609.84 478.40) scale(1.0182 1)" font-size="17.6">25;</text>
<text transform="translate(638.42 478.40) scale(0.9700 1)" font-size="17.6" font-style="italic">r</text>
<text transform="translate(645.19 472.00) scale(0.9833 1)" font-size="13.5">2</text>
<text transform="translate(655.31 478.40) scale(1.0788 1)" font-size="17.6">=</text>
<text transform="translate(669.93 478.40) scale(1.0442 1)" font-size="17.6">0.94</text>
</g>
</svg></div></body></html>
